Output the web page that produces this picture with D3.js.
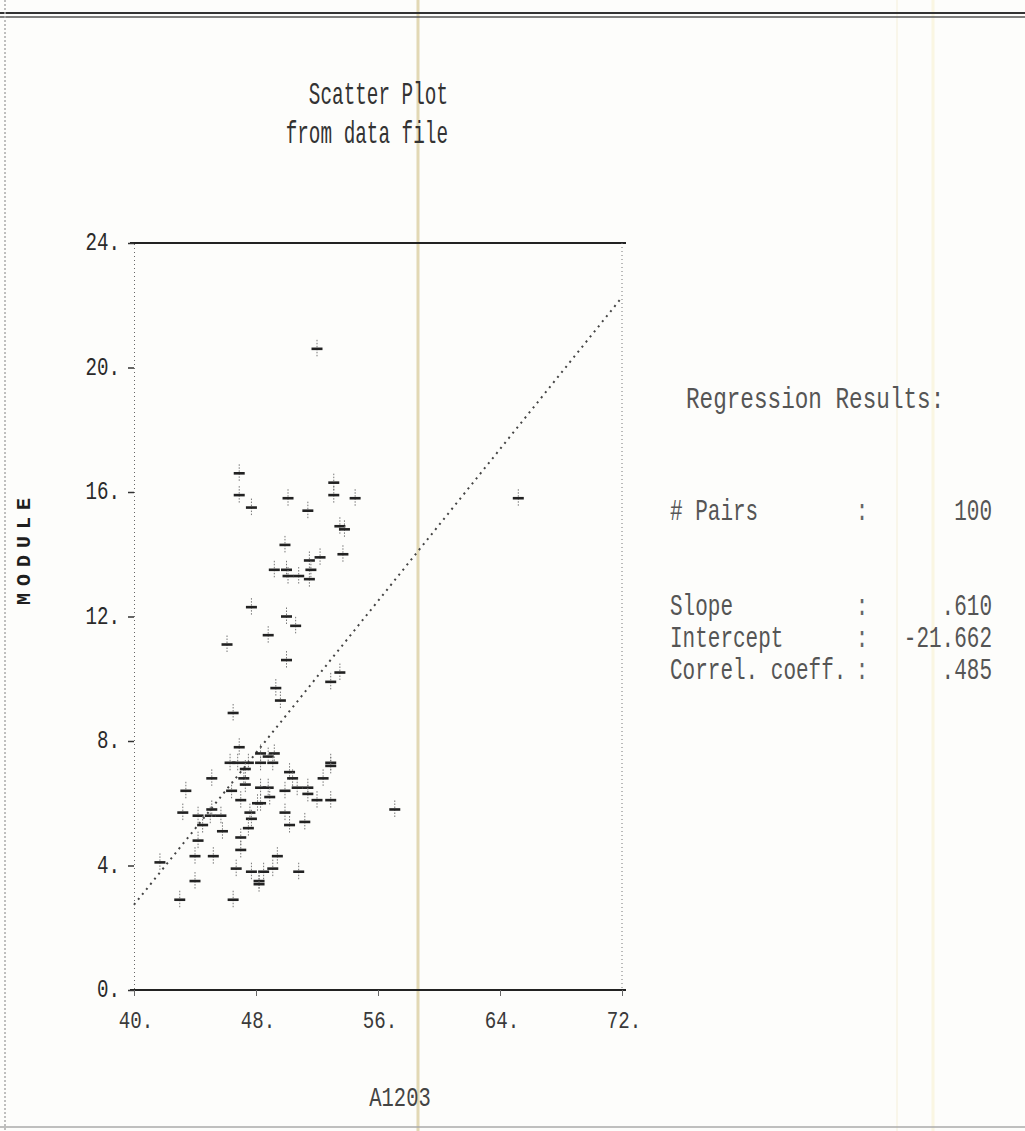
<!DOCTYPE html>
<html>
<head>
<meta charset="utf-8">
<title>Scatter Plot from data file</title>
<script src="https://cdn.jsdelivr.net/npm/d3@7/dist/d3.min.js"></script>
<style>
    html, body { margin: 0; padding: 0; background: #fdfdfb; }
    #chart { width: 1025px; height: 1131px; }
    text { font-family: "Liberation Mono", "DejaVu Sans Mono", monospace; }
</style>
</head>
<body>
<div id="chart"></div>
<script>
// Data (A1203 vs MODULE, 100 pairs)
const a1203Values = [
    52.0, 46.9, 46.9, 47.7, 50.1, 51.4, 53.1, 53.1, 54.5, 53.5,
    53.8, 49.9, 53.7, 52.2, 51.5, 49.2, 50.0, 50.1, 50.8, 51.5,
    51.6, 47.7, 50.0, 50.6, 48.8, 46.1, 50.0, 52.9, 49.3, 49.6,
    46.5, 46.9, 46.3, 46.8, 47.5, 48.3, 48.8, 49.2, 49.1, 52.9,
    52.9, 52.4, 50.2, 50.4, 43.4, 45.1, 47.2, 47.3, 46.4, 47.0,
    48.3, 48.8, 49.9, 50.7, 51.4, 51.4, 52.0, 52.9, 48.9, 48.3,
    48.1, 49.9, 43.2, 44.2, 45.0, 45.1, 45.7, 47.6, 47.7, 47.5,
    44.5, 45.8, 47.0, 50.2, 51.2, 57.1, 44.2, 41.7, 44.0, 45.2,
    46.7, 47.7, 49.4, 49.1, 48.5, 48.2, 48.2, 50.8, 44.0, 43.0,
    46.5, 47.0, 47.3, 53.5, 65.2, 48.3
];
const moduleValues = [
    20.6, 16.6, 15.9, 15.5, 15.8, 15.4, 16.3, 15.9, 15.8, 14.9,
    14.8, 14.3, 14.0, 13.9, 13.8, 13.5, 13.5, 13.3, 13.3, 13.2,
    13.5, 12.3, 12.0, 11.7, 11.4, 11.1, 10.6, 9.9, 9.7, 9.3,
    8.9, 7.8, 7.3, 7.3, 7.3, 7.6, 7.5, 7.6, 7.3, 7.3,
    7.2, 6.8, 7.0, 6.8, 6.4, 6.8, 6.8, 6.6, 6.4, 6.1,
    6.5, 6.5, 6.4, 6.5, 6.5, 6.3, 6.1, 6.1, 6.2, 6.0,
    6.0, 5.7, 5.7, 5.6, 5.6, 5.8, 5.6, 5.7, 5.5, 5.2,
    5.3, 5.1, 4.9, 5.3, 5.4, 5.8, 4.8, 4.1, 4.3, 4.3,
    3.9, 3.8, 4.3, 3.9, 3.8, 3.5, 3.4, 3.8, 3.5, 2.9,
    2.9, 4.5, 7.1, 10.2, 15.8, 7.3
];

const xTicks = [40, 48, 56, 64, 72];
const yTicks = [0, 4, 8, 12, 16, 20, 24];

const titleLines = ['Scatter Plot', 'from data file'];
const xLabel = 'A1203';
const yLabel = 'MODULE';

const statLabels = ['# Pairs', 'Slope', 'Intercept', 'Correl. coeff.'];
const statValues = ['100', '.610', '-21.662', '.485'];
const regressionSlope = 0.610;
const regressionIntercept = -21.662;

/**
 * Add dot-matrix style text (monospace, stretched to printer pitch)
 * @param {Object} parent - D3 selection
 * @param {number} x - Anchor x
 * @param {number} y - Baseline y
 * @param {string} str - Text
 * @param {Object} opts - charWidth, capHeight, anchor, fill, weight
 */
function dotText(parent, x, y, str, opts) {
    const fs = 20;
    const sx = opts.charWidth / (0.6 * fs);
    const sy = opts.capHeight / (0.59 * fs);
    return parent.append('text')
        .attr('transform', `translate(${x}, ${y}) scale(${sx}, ${sy})`)
        .attr('text-anchor', opts.anchor || 'start')
        .attr('fill', opts.fill || '#333')
        .style('font-size', fs + 'px')
        .style('font-weight', opts.weight || 'normal')
        .text(str);
}

function renderScatter() {
    const width = 1025;
    const height = 1131;

    const svg = d3.select('#chart')
        .append('svg')
        .attr('width', width)
        .attr('height', height);

    // Paper
    svg.append('rect')
        .attr('width', width)
        .attr('height', height)
        .attr('fill', '#fdfdfb');

    // Scanner streaks
    [[418, '#e2d8b4', 3], [897, '#f9f6ea', 2], [933, '#faf6e2', 3]].forEach(s => {
        svg.append('line')
            .attr('x1', s[0]).attr('x2', s[0])
            .attr('y1', 0).attr('y2', height)
            .attr('stroke', s[1]).attr('stroke-width', s[2]);
    });

    // Printer borders
    svg.append('line')
        .attr('x1', 0).attr('x2', width)
        .attr('y1', 13).attr('y2', 13)
        .attr('stroke', '#333').attr('stroke-width', 2);
    svg.append('line')
        .attr('x1', 0).attr('x2', width)
        .attr('y1', 17).attr('y2', 17)
        .attr('stroke', '#555').attr('stroke-width', 1.6);
    svg.append('line')
        .attr('x1', 0).attr('x2', width)
        .attr('y1', 1127).attr('y2', 1127)
        .attr('stroke', '#aaa').attr('stroke-width', 1.5);
    svg.append('line')
        .attr('x1', 5).attr('x2', 5)
        .attr('y1', 0).attr('y2', height)
        .attr('stroke', '#aaa').attr('stroke-width', 1.5)
        .attr('stroke-dasharray', '2,2');

    // Scales
    const xScale = d3.scaleLinear().domain([40, 72]).range([134, 622]);
    const yScale = d3.scaleLinear().domain([0, 24]).range([990, 243]);

    const [x0, x1] = xScale.range();
    const [yBottom, yTop] = yScale.range();

    // Frame: solid top and bottom, dotted right side
    svg.append('line')
        .attr('x1', x0 - 4).attr('x2', x1 + 4)
        .attr('y1', yTop).attr('y2', yTop)
        .attr('stroke', '#222').attr('stroke-width', 2);
    svg.append('line')
        .attr('x1', x0 - 4).attr('x2', x1 + 4)
        .attr('y1', yBottom).attr('y2', yBottom)
        .attr('stroke', '#222').attr('stroke-width', 2);
    svg.append('line')
        .attr('x1', x1).attr('x2', x1)
        .attr('y1', yTop).attr('y2', yBottom)
        .attr('stroke', '#777').attr('stroke-width', 1)
        .attr('stroke-dasharray', '1,3');

    // Y axis (dotted spine, short ticks)
    const yAxis = svg.append('g')
        .attr('transform', `translate(${x0}, 0)`)
        .call(d3.axisLeft(yScale).tickValues(yTicks).tickSize(6).tickFormat(''));
    yAxis.select('.domain')
        .attr('stroke', '#666').attr('stroke-dasharray', '1,3');
    yAxis.selectAll('.tick line')
        .attr('stroke', '#333').attr('stroke-width', 1.5);

    // X axis ticks
    const xAxis = svg.append('g')
        .attr('transform', `translate(0, ${yBottom})`)
        .call(d3.axisBottom(xScale).tickValues(xTicks).tickSize(6).tickFormat(''));
    xAxis.select('.domain').remove();
    xAxis.selectAll('.tick line')
        .attr('stroke', '#666').attr('stroke-width', 1);

    // Tick labels
    yTicks.forEach(d => {
        dotText(svg, x0 - 14, yScale(d) + 7, d + '.', {
            charWidth: 11.5, capHeight: 15, anchor: 'end', fill: '#2a2a2a'
        });
    });
    xTicks.forEach(d => {
        dotText(svg, xScale(d) + 2, 1028, d + '.', {
            charWidth: 11.5, capHeight: 14, anchor: 'middle', fill: '#3a3a3a'
        });
    });

    // Axis titles
    dotText(svg, 400, 1106, xLabel, {
        charWidth: 12.3, capHeight: 16, anchor: 'middle', fill: '#444'
    });
    svg.append('text')
        .attr('transform', 'translate(30, 548) rotate(-90)')
        .attr('text-anchor', 'middle')
        .attr('fill', '#1e1e1e')
        .style('font-size', '20px')
        .style('font-weight', 'bold')
        .style('letter-spacing', '7px')
        .text(yLabel);

    // Title (right-aligned lines)
    dotText(svg, 448, 104, titleLines[0], {
        charWidth: 11.6, capHeight: 19, anchor: 'end', fill: '#333'
    });
    dotText(svg, 448, 143, titleLines[1], {
        charWidth: 11.6, capHeight: 19, anchor: 'end', fill: '#333'
    });

    // Regression line (dotted)
    const regLine = d3.line()
        .x(d => xScale(d))
        .y(d => yScale(regressionSlope * d + regressionIntercept));
    svg.append('path')
        .datum(xScale.domain())
        .attr('fill', 'none')
        .attr('stroke', '#444')
        .attr('stroke-width', 2)
        .attr('stroke-dasharray', '2,4.5')
        .attr('d', regLine);

    // Scatter markers: bold dash with faint vertical stem
    const points = a1203Values.map((x, i) => ({ x: x, y: moduleValues[i] }));
    const marks = svg.selectAll('.mark')
        .data(points)
        .enter()
        .append('g')
        .attr('class', 'mark')
        .attr('transform', d => `translate(${xScale(d.x)}, ${yScale(d.y)})`);
    marks.append('line')
        .attr('x1', 0).attr('x2', 0)
        .attr('y1', -9).attr('y2', 9)
        .attr('stroke', '#777').attr('stroke-width', 1)
        .attr('stroke-dasharray', '1.5,1.5');
    marks.append('line')
        .attr('x1', -5.5).attr('x2', 5.5)
        .attr('y1', 0).attr('y2', 0)
        .attr('stroke', '#222').attr('stroke-width', 2.6);

    // Regression results panel
    dotText(svg, 686, 408, 'Regression Results:', {
        charWidth: 13.6, capHeight: 17, fill: '#555'
    });
    const rowY = [520, 615, 647, 679];
    statLabels.forEach((label, i) => {
        dotText(svg, 670, rowY[i], label, {
            charWidth: 12.6, capHeight: 17, fill: '#555'
        });
        dotText(svg, 862, rowY[i], ':', {
            charWidth: 12.6, capHeight: 17, anchor: 'middle', fill: '#666'
        });
        dotText(svg, 992, rowY[i], statValues[i], {
            charWidth: 12.6, capHeight: 17, anchor: 'end', fill: '#555'
        });
    });
}

renderScatter();
</script>
</body>
</html>
